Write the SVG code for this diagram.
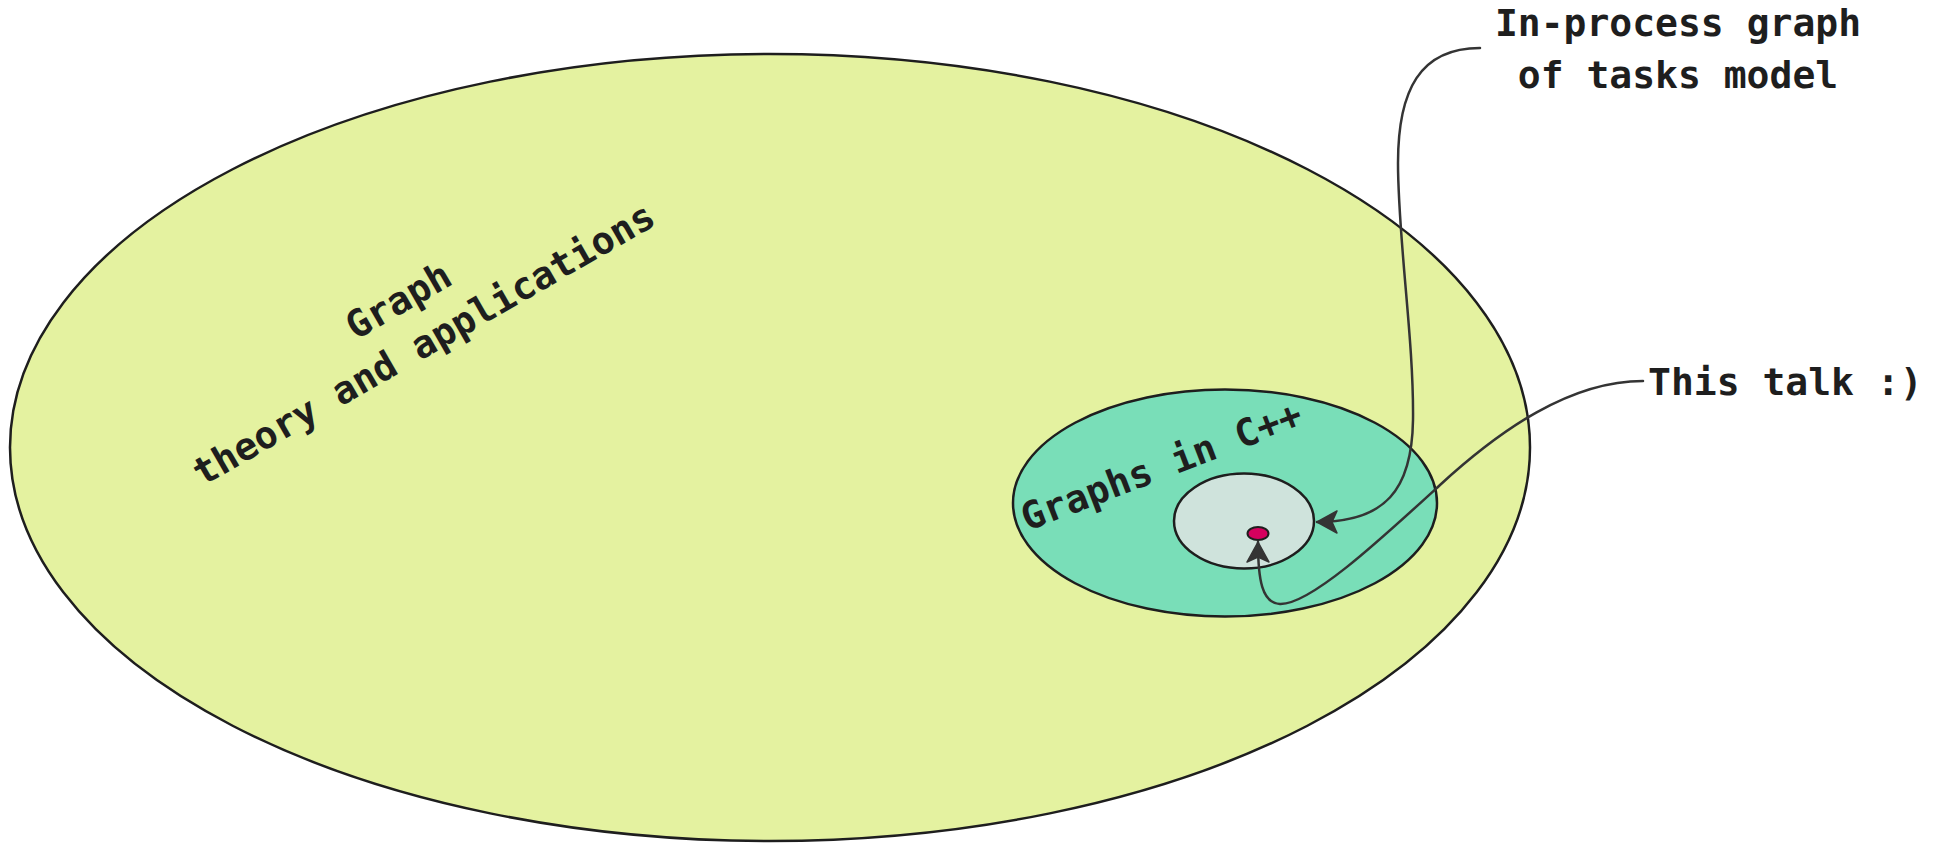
<svg xmlns="http://www.w3.org/2000/svg" width="1939" height="843" viewBox="0 0 1939 843">
  <style>
    .shape { stroke: #1e1e1e; stroke-width: 2.5; }
    .lbl { font-family: "DejaVu Sans Mono", "Liberation Mono", monospace; font-weight: bold; font-size: 38px; fill: #1e1e1e; }
    .conn { fill: none; stroke: #343434; stroke-width: 2.5; stroke-linecap: round; }
  </style>
  <defs>
    <marker id="arrow" markerUnits="userSpaceOnUse" markerWidth="26" markerHeight="26" viewBox="-22 -13 26 26" refX="0" refY="0" orient="auto">
      <path d="M0,0 L-20,-11 L-15,0 L-20,11 Z" fill="#343434" stroke="#343434" stroke-width="1.5" stroke-linejoin="round"/>
    </marker>
  </defs>
  <rect width="1939" height="843" fill="#ffffff"/>

  <g id="graph-theory">
    <ellipse class="shape" cx="770" cy="447.5" rx="760" ry="393.5" fill="#e4f2a0"/>
    <g transform="translate(405,312) rotate(-30)">
      <text class="lbl" x="0" y="0" text-anchor="middle">Graph</text>
      <text class="lbl" x="0" y="50" text-anchor="middle">theory and applications</text>
    </g>
  </g>

  <g id="graphs-cpp">
    <ellipse class="shape" cx="1225" cy="503" rx="212" ry="113.5" fill="#79deb8"/>
    <text class="lbl" transform="translate(1166,478) rotate(-21)" text-anchor="middle">Graphs in C++</text>
  </g>

  <g id="in-process">
    <ellipse class="shape" cx="1244" cy="521" rx="70" ry="47.5" fill="#cfe3dc"/>
  </g>

  <g id="this-talk-dot">
    <ellipse cx="1258" cy="533.5" rx="10.5" ry="6.5" fill="#d6005e" stroke="#1e1e1e" stroke-width="2"/>
  </g>

  <g id="label-in-process">
    <text class="lbl" x="1678" y="36" text-anchor="middle">In-process graph</text>
    <text class="lbl" x="1678" y="88" text-anchor="middle">of tasks model</text>
  </g>

  <g id="label-this-talk">
    <text class="lbl" x="1648" y="395">This talk :)</text>
  </g>

  <g id="connectors">
    <path class="conn" d="M1480,48 C1420,48 1398,90 1398,163 C1398,240 1414,340 1413,420 C1412,490 1385,522 1317,522" marker-end="url(#arrow)"/>
    <path class="conn" d="M1643,381 C1570,381 1500,430 1440,485 C1380,540 1310,605 1280,604 C1262,603 1258,580 1258,542" marker-end="url(#arrow)"/>
  </g>
</svg>
